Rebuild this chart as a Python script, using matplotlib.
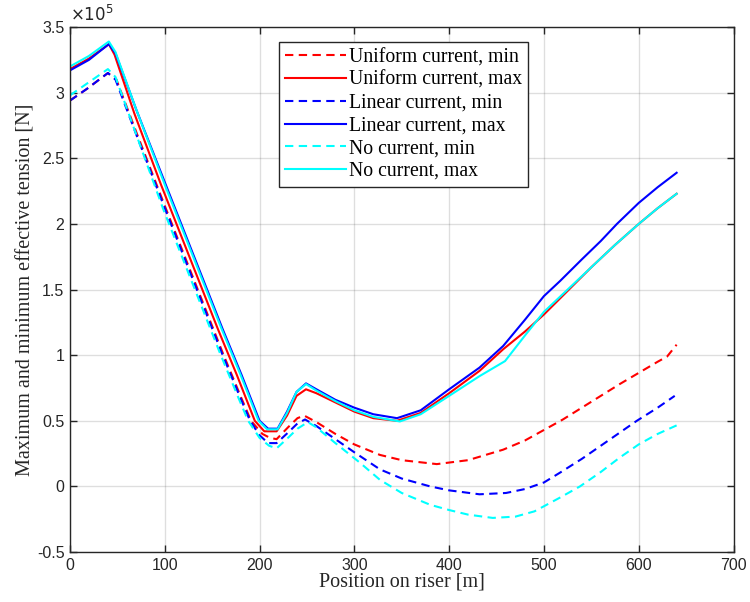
import matplotlib
matplotlib.use("Agg")
import matplotlib.pyplot as plt

# Effective tension along the riser, in units of 1e5 N
uni_min_x = [0, 18, 40, 49, 71, 101, 131, 161, 181, 191, 203, 211, 218, 230, 240, 247, 260, 280, 300, 327,
             350, 387, 420, 457, 480, 500, 520, 540, 560, 580, 600, 620, 630, 640]
uni_min_y = [2.94, 3.03, 3.15, 3.10, 2.68, 2.12, 1.57, 1.02, 0.67, 0.5, 0.40, 0.37, 0.36, 0.45, 0.52, 0.54,
             0.49, 0.40, 0.32, 0.24, 0.20, 0.17, 0.20, 0.28, 0.35, 0.43, 0.51, 0.60, 0.69, 0.78, 0.865, 0.95,
             0.99, 1.08]

uni_max_x = [0, 20, 41, 47, 68, 96, 126, 156, 176, 195, 205, 218, 229, 239, 249, 260, 280, 300, 320, 345,
             370, 400, 432, 457, 480, 500, 525, 550, 575, 600, 620, 640]
uni_max_y = [3.18, 3.26, 3.37, 3.29, 2.84, 2.30, 1.75, 1.2, 0.85, 0.5, 0.42, 0.42, 0.54, 0.69, 0.74, 0.71,
             0.64, 0.57, 0.52, 0.50, 0.56, 0.71, 0.88, 1.045, 1.18, 1.31, 1.49, 1.67, 1.84, 2.0, 2.12, 2.23]

lin_min_x = [0, 18, 40, 48, 70, 100, 130, 160, 180, 190, 200, 209, 218, 230, 240, 248, 260, 280, 300, 327,
             350, 380, 400, 432, 460, 480, 500, 517, 540, 560, 580, 598, 620, 638]
lin_min_y = [2.94, 3.03, 3.15, 3.10, 2.68, 2.12, 1.57, 1.02, 0.67, 0.5, 0.39, 0.33, 0.33, 0.41, 0.48, 0.51,
             0.46, 0.36, 0.26, 0.13, 0.06, 0.0, -0.03, -0.06, -0.05, -0.02, 0.03, 0.105, 0.21, 0.31, 0.41,
             0.50, 0.60, 0.69]

lin_max_x = [0, 20, 41, 48, 70, 101, 131, 161, 181, 200, 209, 219, 229, 239, 249, 260, 280, 300, 320, 345,
             370, 400, 432, 457, 480, 500, 517, 540, 560, 577, 600, 620, 640]
lin_max_y = [3.17, 3.25, 3.37, 3.30, 2.87, 2.30, 1.75, 1.2, 0.85, 0.5, 0.44, 0.44, 0.57, 0.72, 0.785, 0.74,
             0.66, 0.60, 0.55, 0.52, 0.58, 0.74, 0.905, 1.07, 1.27, 1.45, 1.565, 1.73, 1.87, 2.0, 2.16, 2.28,
             2.39]

no_min_x = [0, 18, 40, 48, 69, 98, 128, 158, 178, 188, 200, 210, 218, 230, 240, 251, 260, 280, 306, 327,
            350, 380, 400, 420, 446, 470, 490, 517, 538, 560, 580, 600, 620, 640]
no_min_y = [2.98, 3.07, 3.18, 3.12, 2.70, 2.12, 1.57, 1.02, 0.67, 0.5, 0.37, 0.31, 0.29, 0.37, 0.44, 0.49,
            0.45, 0.33, 0.18, 0.05, -0.05, -0.14, -0.18, -0.215, -0.24, -0.23, -0.19, -0.085, 0.0, 0.11,
            0.22, 0.32, 0.40, 0.465]

no_max_x = [0, 20, 41, 48, 70, 100, 130, 160, 180, 199, 208, 219, 229, 239, 249, 260, 280, 300, 320, 348,
            370, 400, 432, 459, 480, 500, 525, 550, 575, 600, 620, 640]
no_max_y = [3.20, 3.28, 3.39, 3.31, 2.87, 2.30, 1.75, 1.2, 0.85, 0.5, 0.435, 0.435, 0.56, 0.72, 0.78, 0.73,
            0.65, 0.58, 0.53, 0.495, 0.55, 0.69, 0.84, 0.955, 1.15, 1.33, 1.5, 1.67, 1.84, 2.0, 2.12, 2.23]

labels = ["Uniform current, min", "Uniform current, max",
          "Linear current, min", "Linear current, max",
          "No current, min", "No current, max"]

x_ticks = [0, 100, 200, 300, 400, 500, 600, 700]
y_ticks = [-0.5, 0, 0.5, 1, 1.5, 2, 2.5, 3, 3.5]
y_tick_labels = ["-0.5", "0", "0.5", "1", "1.5", "2", "2.5", "3", "3.5"]

serif = ["Liberation Serif", "DejaVu Serif"]
sans = ["Liberation Sans", "DejaVu Sans"]

fig = plt.figure(figsize=(7.5, 6.02), dpi=100)
ax = fig.add_axes([0.0933, 0.083, 0.8847, 0.872])

dash = (0, (4, 2.6))
lw = 1.5
series = [
    (uni_min_x, uni_min_y, "#ff0000", dash),
    (uni_max_x, uni_max_y, "#ff0000", "-"),
    (lin_min_x, lin_min_y, "#0000ff", dash),
    (lin_max_x, lin_max_y, "#0000ff", "-"),
    (no_min_x, no_min_y, "#00ffff", dash),
    (no_max_x, no_max_y, "#00ffff", "-"),
]
for (xs, ys, c, ls), lab in zip(series, labels):
    ax.plot(xs, ys, color=c, linestyle=ls, linewidth=lw, label=lab)

ax.set_xlim(0, 700)
ax.set_ylim(-0.5, 3.5)
ax.set_xticks(x_ticks)
ax.set_yticks(y_ticks)
ax.set_yticklabels(y_tick_labels)
ax.grid(True, color="#262626", alpha=0.15, linewidth=1.0)
ax.set_axisbelow(True)

ax.tick_params(direction="in", top=True, right=True, length=5, width=1.0,
               colors="#262626", labelsize=11.5, pad=4)
for lbl in ax.get_xticklabels() + ax.get_yticklabels():
    lbl.set_family(sans)
for sp in ax.spines.values():
    sp.set_color("#262626")
    sp.set_linewidth(1.0)

ax.set_xlabel("Position on riser [m]", family=serif, fontsize=14.5, color="#262626", labelpad=0)
ax.set_ylabel("Maximum and minimum effective tension [N]", family=serif, fontsize=14.5,
              color="#262626", labelpad=1)

ax.text(0.0, 1.005, r"$\times10^{5}$", transform=ax.transAxes, ha="left", va="bottom",
        fontsize=12, color="#262626", family=sans)

leg = ax.legend(loc="upper left", bbox_to_anchor=(0.315, 0.971), frameon=True, fancybox=False,
                edgecolor="#262626", framealpha=1.0, borderpad=0.3, labelspacing=0.19,
                handlelength=3.1, handletextpad=0.15, borderaxespad=0.0,
                prop={"family": serif, "size": 14.2})
leg.get_frame().set_linewidth(1.0)

fig.savefig("out.png", dpi=100)
